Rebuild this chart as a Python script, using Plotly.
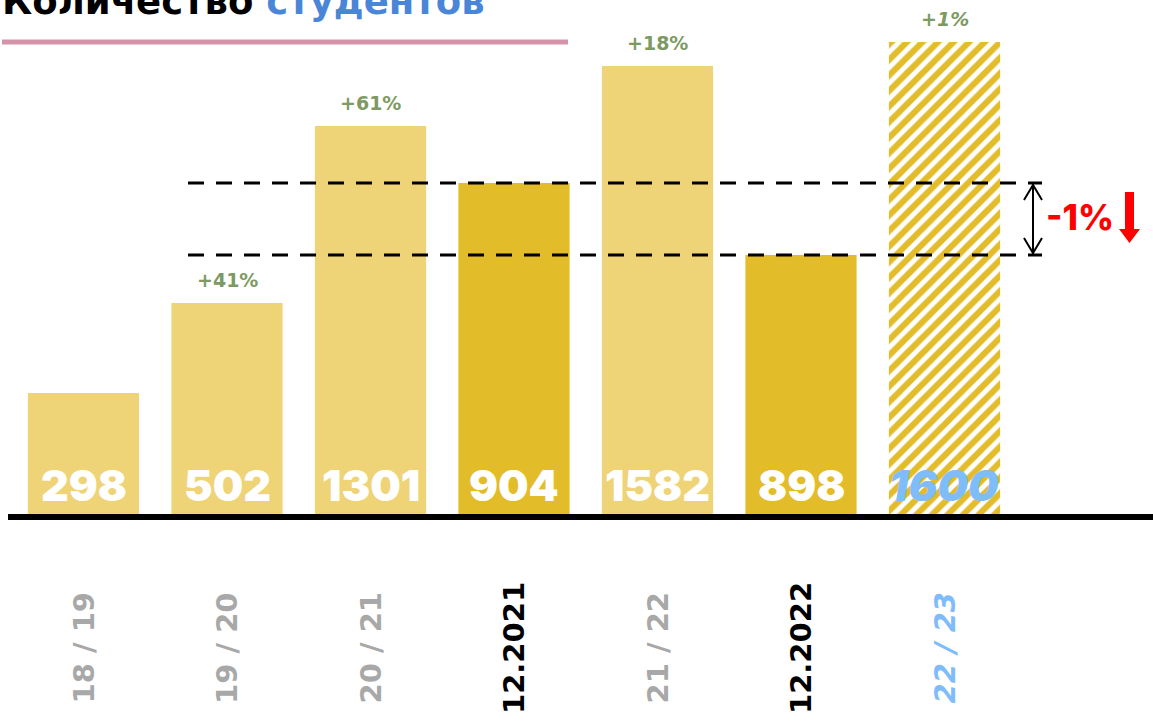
import plotly.graph_objects as go

# data
seasons = ["18 / 19", "19 / 20", "20 / 21", "12.2021", "21 / 22", "12.2022", "22 / 23"]
students = ["298", "502", "1301", "904", "1582", "898", "1600"]
drawn_height = [124, 214, 391, 334, 451, 262, 475]   # bar heights as drawn in the infographic
kind = ["past", "past", "past", "snap", "past", "snap", "forecast"]
growth = {"19 / 20": "+41%", "20 / 21": "+61%", "21 / 22": "+18%", "22 / 23": "+1%"}
drop_label = "-1%"

LIGHT = "#efd377"
DARK = "#e3bc2a"
GREY = "#a8a8a8"
BLUE = "#7fbcfa"
GREEN = "#7d9a62"
HEAVY = "Inter"
WIDE = "DejaVu Sans"

W, H = 1153, 721
base_px = 517  # baseline position from the top

idx = list(range(len(seasons)))
solid = [i for i in idx if kind[i] != "forecast"]
hatched = [i for i in idx if kind[i] == "forecast"]

fig = go.Figure()
fig.add_trace(go.Bar(
    x=solid,
    y=[drawn_height[i] for i in solid],
    width=0.775,
    marker=dict(color=[LIGHT if kind[i] == "past" else DARK for i in solid], line=dict(width=0)),
    hoverinfo="skip",
))
fig.add_trace(go.Bar(
    x=hatched,
    y=[drawn_height[i] for i in hatched],
    width=0.775,
    marker=dict(
        color="white",
        line=dict(width=0),
        pattern=dict(shape="/", fgcolor=DARK, bgcolor="white", size=11, solidity=0.55, fgopacity=1),
    ),
    hoverinfo="skip",
))


def px_x(p):
    return p / W


def px_y(p):
    return 1 - p / H


shapes = []
# baseline
shapes.append(dict(type="line", xref="paper", yref="y", x0=px_x(8), x1=1, y0=0, y1=0,
                   line=dict(color="black", width=6)))
# pink underline of the title
shapes.append(dict(type="line", xref="paper", yref="paper", x0=px_x(2), x1=px_x(568),
                   y0=px_y(42), y1=px_y(42), line=dict(color="#d493a8", width=5)))
# dashed reference lines at the December snapshots
top21 = drawn_height[seasons.index("12.2021")]
top22 = drawn_height[seasons.index("12.2022")]
for yv in (top21, top22):
    shapes.append(dict(type="line", xref="paper", yref="y", x0=px_x(188), x1=px_x(1042),
                       y0=yv, y1=yv, line=dict(color="black", width=3, dash="16px,12px")))
# double arrow between them
ax = px_x(1033)
dx = 9 / W
shapes.append(dict(type="line", xref="paper", yref="y", x0=ax, x1=ax, y0=top22, y1=top21,
                   line=dict(color="black", width=2)))
shapes.append(dict(type="path", xref="paper", yref="paper",
                   path=f"M {ax-dx},{px_y(200)} L {ax},{px_y(185)} L {ax+dx},{px_y(200)}",
                   line=dict(color="black", width=2)))
shapes.append(dict(type="path", xref="paper", yref="paper",
                   path=f"M {ax-dx},{px_y(238)} L {ax},{px_y(253)} L {ax+dx},{px_y(238)}",
                   line=dict(color="black", width=2)))
# red down arrow
shapes.append(dict(type="path", xref="paper", yref="paper",
                   path=(f"M {px_x(1125)},{px_y(192)} L {px_x(1134)},{px_y(192)} "
                         f"L {px_x(1134)},{px_y(229)} L {px_x(1140)},{px_y(229)} "
                         f"L {px_x(1129.5)},{px_y(243)} L {px_x(1119)},{px_y(229)} "
                         f"L {px_x(1125)},{px_y(229)} Z"),
                   fillcolor="#ff0000", line=dict(width=0)))

ann = []
# title, cut by the top edge like in the original
ann.append(dict(xref="paper", yref="paper", x=0, y=px_y(1), xanchor="left", yanchor="middle",
                text="<b>Количество <span style='color:#4a86d8'>студентов</span></b>",
                showarrow=False, font=dict(family=WIDE, size=37, color="black")))
# values inside the bars
for i, (v, k) in enumerate(zip(students, kind)):
    ann.append(dict(x=i, y=base_px - 485, text=f"<i>{v}</i>" if k == "forecast" else v,
                    showarrow=False, xanchor="center", yanchor="middle",
                    font=dict(family=HEAVY, size=43, color=BLUE if k == "forecast" else "white",
                              weight=900)))
# growth labels
for s, g in growth.items():
    i = seasons.index(s)
    txt = f"<i>{g}</i>" if kind[i] == "forecast" else g
    ann.append(dict(x=i, y=drawn_height[i], yshift=23, text=f"<b>{txt}</b>", showarrow=False,
                    xanchor="center", yanchor="middle",
                    font=dict(family=WIDE, size=19, color=GREEN)))
# season labels, rotated
for i, (s, k) in enumerate(zip(seasons, kind)):
    col = GREY if k == "past" else "black" if k == "snap" else BLUE
    txt = f"<i>{s}</i>" if k == "forecast" else s
    ann.append(dict(x=i, y=base_px - 648, text=f"<b>{txt}</b>", textangle=-90, showarrow=False,
                    xanchor="center", yanchor="middle",
                    font=dict(family=WIDE, size=29, color=col)))
# -1%
ann.append(dict(xref="paper", yref="paper", x=px_x(1080), y=px_y(217), text=drop_label,
                showarrow=False, xanchor="center", yanchor="middle",
                font=dict(family=HEAVY, size=35, color="#ff0000", weight=800)))

slot = 143.5
first = 83.5
fig.update_layout(
    width=W, height=H,
    margin=dict(l=0, r=0, t=0, b=0),
    plot_bgcolor="white", paper_bgcolor="white",
    showlegend=False,
    barmode="overlay",
    xaxis=dict(range=[-first / slot, (W - first) / slot], visible=False, fixedrange=True),
    yaxis=dict(range=[base_px - H, base_px], visible=False, fixedrange=True),
    shapes=shapes,
    annotations=ann,
)

# drop the default page margin so the figure fills the window
fig.write_html("out.html", config={"displayModeBar": False},
               post_script="document.body.style.margin='0';document.body.style.overflow='hidden';")
